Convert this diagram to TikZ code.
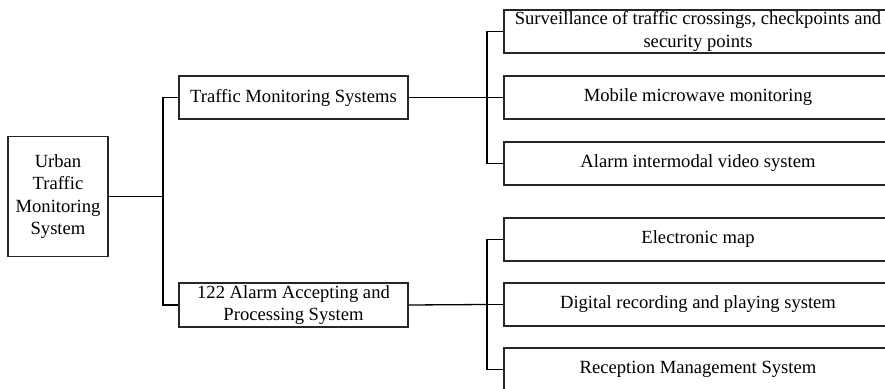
\documentclass[tikz,border=0pt]{standalone}
\usepackage{fontspec}
\setmainfont{Liberation Serif}
\colorlet{box edge}{black!85}
\def\upperleaves{{(698,-31.5)/surv/{Surveillance of traffic crossings, checkpoints and\\security points}}, {(698,-97.5)/mobile/{Mobile microwave monitoring}}, {(698,-163.5)/video/{Alarm intermodal video system}}}
\def\lowerleaves{{(698,-239.5)/emap/{Electronic map}}, {(698,-304.5)/record/{Digital recording and playing system}}, {(698,-369.5)/reception/{Reception Management System}}}
\tikzstyle{block} = [draw=box edge, line width=1.2pt, inner sep=0pt, align=center, font=\fontsize{18.6}{22.5}\selectfont]
\tikzstyle{branch} = [block, minimum width=229pt, minimum height=43pt]
\tikzstyle{leaf} = [block, minimum width=388pt, minimum height=43pt]
\tikzstyle{link} = [draw, line width=1.3pt, -]
\begin{document}
\begin{tikzpicture}[x=1pt,y=1pt]

  % Size of the picture
  \useasboundingbox (0,0) rectangle (885,-388);
  \clip (0,0) rectangle (885,-388);

  % The root and the two systems
  \node[block, minimum width=100pt, minimum height=120pt] (root) at (58,-196.5) {Urban\\Traffic\\Monitoring\\System};
  \node[branch] (traffic) at (293.5,-97.5) {Traffic Monitoring Systems};
  \node[branch, minimum height=44pt] (alarm) at (293.5,-305) {122 Alarm Accepting and\\Processing System};

  % the leaves on the right
  \foreach \pos/\name/\text in \upperleaves
    \node[leaf] (\name) at \pos {\text};
  \foreach \pos/\name/\text in \lowerleaves
    \node[leaf] (\name) at \pos {\text};

  % The forks
  \coordinate (rootfork) at (163,-196.5);
  \coordinate (trafficfork) at (487,-97.5);
  \coordinate (alarmfork) at (487,-304.5);

  % The connections between them
  \path[link] (root.east) -- (rootfork);
  \foreach \sink in {traffic, alarm}
    \path[link] (rootfork) |- (\sink.west);
  \path[link] (traffic.east) -- (trafficfork);
  \foreach \sink in {surv, mobile, video}
    \path[link] (trafficfork) |- (\sink.west);
  \path[link] (alarm.east) -- (alarmfork);
  \foreach \sink in {emap, record, reception}
    \path[link] (alarmfork) |- (\sink.west);
\end{tikzpicture}
\end{document}
